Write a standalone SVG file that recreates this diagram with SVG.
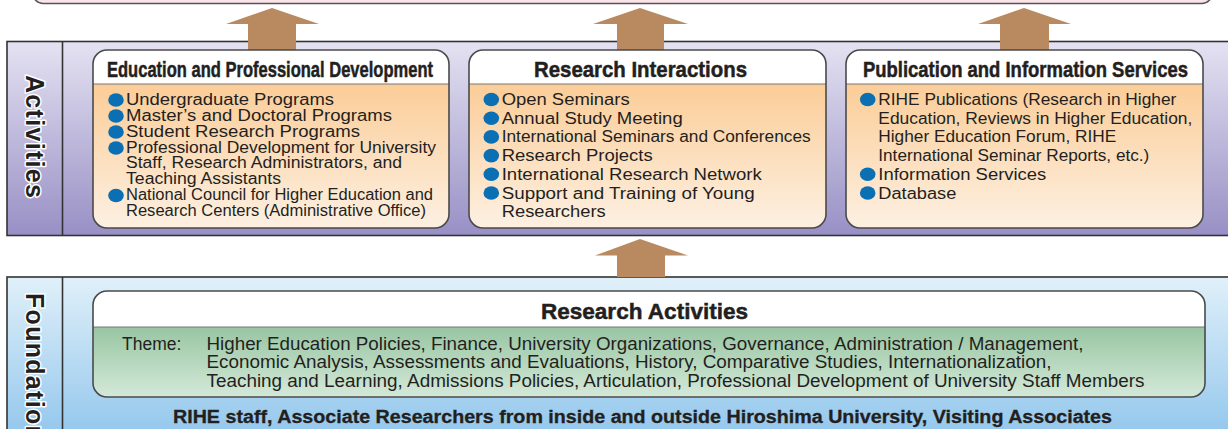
<svg xmlns="http://www.w3.org/2000/svg" width="1228" height="429" viewBox="0 0 1228 429">
<style>
.band{stroke:#333;stroke-width:1.6}
.div{stroke:#333;stroke-width:1.6}
.box{fill:none;stroke:#4a4a4a;stroke-width:1.6}
.hdr{fill:#fff}
.sep{stroke:#777;stroke-width:1}
.side{font-family:"Liberation Sans",Arial,sans-serif;font-weight:bold;font-size:25px;letter-spacing:1.3px;fill:#231f20;stroke:#fff;stroke-width:3px;paint-order:stroke;stroke-linejoin:round}
.ttl{font-family:"Liberation Sans",Arial,sans-serif;font-weight:bold;font-size:22.5px;fill:#231f20;stroke:#231f20;stroke-width:0.5px}
.it{font-family:"Liberation Sans",Arial,sans-serif;font-size:16px;fill:#231f20}
.th{font-family:"Liberation Sans",Arial,sans-serif;font-size:17.5px;fill:#231f20}
.bt{font-family:"Liberation Sans",Arial,sans-serif;font-weight:bold;font-size:18px;fill:#231f20;stroke:#231f20;stroke-width:0.3px}
.bul{fill:#0a6fb3}
.arr{fill:#b98a60}
</style>
<defs>
<linearGradient id="gAct" x1="0" y1="0" x2="0" y2="1"><stop offset="0" stop-color="#e4e2f2"/><stop offset="1" stop-color="#9890c5"/></linearGradient>
<linearGradient id="gFnd" x1="0" y1="0" x2="0" y2="1"><stop offset="0" stop-color="#e0f0f9"/><stop offset="1" stop-color="#8ec4ec"/></linearGradient>
<linearGradient id="gOr" x1="0" y1="0" x2="0" y2="1"><stop offset="0" stop-color="#fbcd98"/><stop offset="1" stop-color="#fdf0e2"/></linearGradient>
<linearGradient id="gGr" x1="0" y1="0" x2="0" y2="1"><stop offset="0" stop-color="#98c5a2"/><stop offset="1" stop-color="#d4e9d9"/></linearGradient>
</defs>

<g id="top-box">
<rect x="33" y="-30" width="1179" height="33.5" rx="10" fill="#fbe3ea" stroke="#555" stroke-width="1.5"/>
</g>

<g id="activities-band">
<rect class="band" x="7" y="41.5" width="1240" height="194" fill="url(#gAct)"/>
<line class="div" x1="62.5" y1="41.5" x2="62.5" y2="235.5"/>
<text class="side" transform="translate(26,75) rotate(90)">Activities</text>
</g>

<g id="foundation-band">
<rect class="band" x="7" y="277" width="1240" height="170" fill="url(#gFnd)"/>
<line class="div" x1="62.5" y1="277" x2="62.5" y2="440"/>
<text class="side" transform="translate(26,293) rotate(90)">Foundation</text>
<text class="bt" x="173" y="423" textLength="939" lengthAdjust="spacingAndGlyphs">RIHE staff, Associate Researchers from inside and outside Hiroshima University, Visiting Associates</text>
</g>

<g id="connectors">
<polygon class="arr" points="272,8 319,24 296,24 296,50 248,50 248,24 226,24"/>
<polygon class="arr" points="640,8 688,24 664,24 664,50 617,50 617,24 593,24"/>
<polygon class="arr" points="1024,8 1071,24 1049,24 1049,50 1000,50 1000,24 978,24"/>
<polygon class="arr" points="640,239 688,255.5 665,255.5 665,277 617,277 617,255.5 595,255.5"/>
</g>

<g id="node-education">
<rect class="hdr" x="93" y="50" width="356" height="178" rx="14"/>
<path d="M93,84 H449 V214 A14,14 0 0 1 435,228 H107 A14,14 0 0 1 93,214 Z" fill="url(#gOr)"/>
<line class="sep" x1="93" y1="84" x2="449" y2="84"/>
<rect class="box" x="93" y="50" width="356" height="178" rx="14"/>
<text class="ttl" x="107" y="76.5" textLength="326" lengthAdjust="spacingAndGlyphs">Education and Professional Development</text>
<ellipse class="bul" cx="116" cy="100" rx="7.8" ry="6.8"/>
<ellipse class="bul" cx="116" cy="116" rx="7.8" ry="6.8"/>
<ellipse class="bul" cx="116" cy="132" rx="7.8" ry="6.8"/>
<ellipse class="bul" cx="116" cy="148" rx="7.8" ry="6.8"/>
<ellipse class="bul" cx="116" cy="195.5" rx="7.8" ry="6.8"/>
<text class="it" x="126" y="105" textLength="208" lengthAdjust="spacingAndGlyphs">Undergraduate Programs</text>
<text class="it" x="126" y="120.8" textLength="266" lengthAdjust="spacingAndGlyphs">Master’s and Doctoral Programs</text>
<text class="it" x="126" y="136.7" textLength="234" lengthAdjust="spacingAndGlyphs">Student Research Programs</text>
<text class="it" x="126" y="152.6" textLength="310" lengthAdjust="spacingAndGlyphs">Professional Development for University</text>
<text class="it" x="126" y="168.4" textLength="276" lengthAdjust="spacingAndGlyphs">Staff, Research Administrators, and</text>
<text class="it" x="126" y="184.3" textLength="155" lengthAdjust="spacingAndGlyphs">Teaching Assistants</text>
<text class="it" x="126" y="200.1" textLength="307" lengthAdjust="spacingAndGlyphs">National Council for Higher Education and</text>
<text class="it" x="126" y="216" textLength="300" lengthAdjust="spacingAndGlyphs">Research Centers (Administrative Office)</text>
</g>

<g id="node-research-interactions">
<rect class="hdr" x="469" y="50" width="357" height="178" rx="14"/>
<path d="M469,84 H826 V214 A14,14 0 0 1 812,228 H483 A14,14 0 0 1 469,214 Z" fill="url(#gOr)"/>
<line class="sep" x1="469" y1="84" x2="826" y2="84"/>
<rect class="box" x="469" y="50" width="357" height="178" rx="14"/>
<text class="ttl" x="534" y="76.5" textLength="213" lengthAdjust="spacingAndGlyphs">Research Interactions</text>
<ellipse class="bul" cx="491.3" cy="99.5" rx="7.8" ry="6.8"/>
<ellipse class="bul" cx="491.3" cy="118.2" rx="7.8" ry="6.8"/>
<ellipse class="bul" cx="491.3" cy="136.9" rx="7.8" ry="6.8"/>
<ellipse class="bul" cx="491.3" cy="155.6" rx="7.8" ry="6.8"/>
<ellipse class="bul" cx="491.3" cy="174.3" rx="7.8" ry="6.8"/>
<ellipse class="bul" cx="491.3" cy="193" rx="7.8" ry="6.8"/>
<text class="it" x="501.7" y="105" textLength="128" lengthAdjust="spacingAndGlyphs">Open Seminars</text>
<text class="it" x="501.7" y="123.7" textLength="181" lengthAdjust="spacingAndGlyphs">Annual Study Meeting</text>
<text class="it" x="501.7" y="142.4" textLength="309" lengthAdjust="spacingAndGlyphs">International Seminars and Conferences</text>
<text class="it" x="501.7" y="161.1" textLength="151" lengthAdjust="spacingAndGlyphs">Research Projects</text>
<text class="it" x="501.7" y="179.8" textLength="260" lengthAdjust="spacingAndGlyphs">International Research Network</text>
<text class="it" x="501.7" y="198.5" textLength="253" lengthAdjust="spacingAndGlyphs">Support and Training of Young</text>
<text class="it" x="501.7" y="217.2" textLength="104" lengthAdjust="spacingAndGlyphs">Researchers</text>
</g>

<g id="node-publication">
<rect class="hdr" x="846" y="50" width="357" height="178" rx="14"/>
<path d="M846,84 H1203 V214 A14,14 0 0 1 1189,228 H860 A14,14 0 0 1 846,214 Z" fill="url(#gOr)"/>
<line class="sep" x1="846" y1="84" x2="1203" y2="84"/>
<rect class="box" x="846" y="50" width="357" height="178" rx="14"/>
<text class="ttl" x="863" y="76.5" textLength="325" lengthAdjust="spacingAndGlyphs">Publication and Information Services</text>
<ellipse class="bul" cx="867.7" cy="99.5" rx="7.8" ry="6.8"/>
<ellipse class="bul" cx="867.7" cy="174.3" rx="7.8" ry="6.8"/>
<ellipse class="bul" cx="867.7" cy="193" rx="7.8" ry="6.8"/>
<text class="it" x="878.3" y="105" textLength="298" lengthAdjust="spacingAndGlyphs">RIHE Publications (Research in Higher</text>
<text class="it" x="878.3" y="123.7" textLength="314" lengthAdjust="spacingAndGlyphs">Education, Reviews in Higher Education,</text>
<text class="it" x="878.3" y="142.4" textLength="238" lengthAdjust="spacingAndGlyphs">Higher Education Forum, RIHE</text>
<text class="it" x="878.3" y="161.1" textLength="271" lengthAdjust="spacingAndGlyphs">International Seminar Reports, etc.)</text>
<text class="it" x="878.3" y="179.8" textLength="168" lengthAdjust="spacingAndGlyphs">Information Services</text>
<text class="it" x="878.3" y="198.5" textLength="78" lengthAdjust="spacingAndGlyphs">Database</text>
</g>

<g id="node-research-activities">
<rect class="hdr" x="93" y="291" width="1112" height="106" rx="14"/>
<path d="M93,327 H1205 V383 A14,14 0 0 1 1191,397 H107 A14,14 0 0 1 93,383 Z" fill="url(#gGr)"/>
<line class="sep" x1="93" y1="327" x2="1205" y2="327"/>
<rect class="box" x="93" y="291" width="1112" height="106" rx="14"/>
<text class="ttl" x="541" y="319" font-size="23" textLength="207" lengthAdjust="spacingAndGlyphs">Research Activities</text>
<text class="th" x="122" y="349.5">Theme:</text>
<text class="th" x="206.5" y="349.5" textLength="877" lengthAdjust="spacingAndGlyphs">Higher Education Policies, Finance, University Organizations, Governance, Administration / Management,</text>
<text class="th" x="206.5" y="368" textLength="845" lengthAdjust="spacingAndGlyphs">Economic Analysis, Assessments and Evaluations, History, Comparative Studies, Internationalization,</text>
<text class="th" x="206.5" y="386.5" textLength="938" lengthAdjust="spacingAndGlyphs">Teaching and Learning, Admissions Policies, Articulation, Professional Development of University Staff Members</text>
</g>
</svg>
